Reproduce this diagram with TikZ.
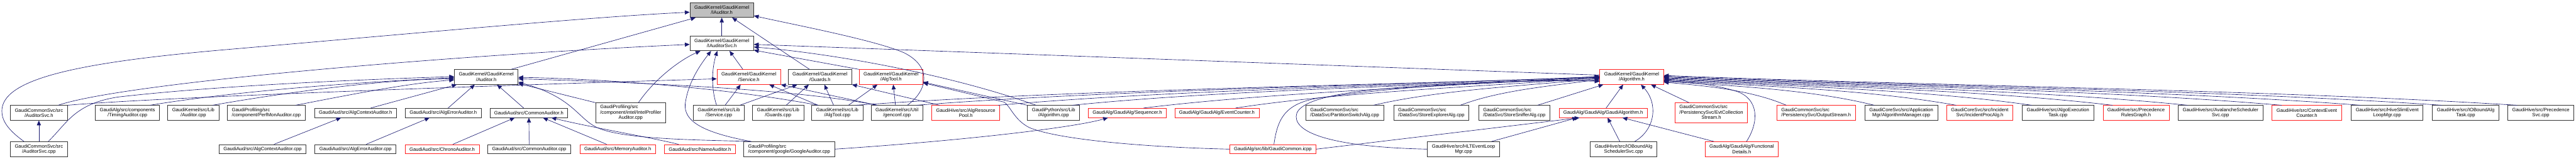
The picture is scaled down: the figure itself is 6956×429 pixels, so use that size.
\documentclass[tikz,border=0pt]{standalone}
\usepackage{fontspec}
\setmainfont{Liberation Sans}
\usetikzlibrary{arrows.meta, calc}
\definecolor{cEdge}{HTML}{191970}
\definecolor{cRed}{HTML}{FF2020}
\definecolor{cRoot}{HTML}{BFBFBF}
% three lines: two left aligned, the last one centred
\newcommand{\tlines}[3]{\begin{tabular}{@{}l@{}}#1\\#2\\\multicolumn{1}{@{}c@{}}{#3}\end{tabular}}

\begin{document}
\begin{tikzpicture}[
  x=1pt, y=-1pt,
  font=\fontsize{13}{14.5}\selectfont, >={Triangle[length=13pt,width=11pt]},
  file/.style={draw=black!80, fill=white, line width=1.2pt, align=center, inner xsep=12pt, inner ysep=2pt},
  trunc/.style={file, draw=cRed},
  root/.style={file, fill=cRoot},
  one/.style={minimum height=25pt},
  two/.style={minimum height=40pt},
  three/.style={minimum height=54pt},
  lft/.style={align=left},
  inc/.style={->, draw=cEdge, line width=1.1pt},
]
\useasboundingbox (0,0) rectangle (6956,429);

% rows 0 and 1
\node[root, two] (ia) at (1949,27) {GaudiKernel/GaudiKernel\\/IAuditor.h};
\node[file, two] (iasvc) at (1949,117) {GaudiKernel/GaudiKernel\\/IAuditorSvc.h};

% row 2
\node[file, two] (audh) at (1313,208) {GaudiKernel/GaudiKernel\\/Auditor.h};
\node[trunc, two] (svch) at (2022,208) {GaudiKernel/GaudiKernel\\/Service.h};
\node[file, two] (grdh) at (2214,208) {GaudiKernel/GaudiKernel\\/Guards.h};
\node[trunc, two] (tolh) at (2406,208) {GaudiKernel/GaudiKernel\\/AlgTool.h};
\node[trunc, two] (algh) at (4406,208) {GaudiKernel/GaudiKernel\\/Algorithm.h};

% row 3
\node[file, two] (adsvh) at (105,305) {GaudiCommonSvc/src\\/AuditorSvc.h};
\node[file, two] (timcpp) at (344,305) {GaudiAlg/src/components\\/TimingAuditor.cpp};
\node[file, two] (audcpp) at (522,305) {GaudiKernel/src/Lib\\/Auditor.cpp};
\node[file, two, lft] (perfcpp) at (719,305) {GaudiProfiling/src\\/component/PerfMonAuditor.cpp};
\node[file, one] (algctxh) at (960,305) {GaudiAud/src/AlgContextAuditor.h};
\node[file, one] (algerrh) at (1197,305) {GaudiAud/src/AlgErrorAuditor.h};
\node[file, one] (comh) at (1428,305) {GaudiAud/src/CommonAuditor.h};
\node[file, three] (intelcpp) at (1703,305) {\tlines{GaudiProfiling/src}{/component/intel/IntelProfiler}{Auditor.cpp}};
\node[file, two] (svccpp) at (1941,305) {GaudiKernel/src/Lib\\/Service.cpp};
\node[file, two] (grdcpp) at (2101,305) {GaudiKernel/src/Lib\\/Guards.cpp};
\node[file, two] (tolcpp) at (2261,305) {GaudiKernel/src/Lib\\/AlgTool.cpp};
\node[file, two] (gencpp) at (2422,305) {GaudiKernel/src/Util\\/genconf.cpp};
\node[trunc, two] (poolh) at (2608,305) {GaudiHive/src/AlgResource\\Pool.h};
\node[file, two] (pyalgcpp) at (2845,305) {GaudiPython/src/Lib\\/Algorithm.cpp};
\node[trunc, one] (seqh) at (3044,305) {GaudiAlg/GaudiAlg/Sequencer.h};
\node[trunc, one] (evcnth) at (3286,305) {GaudiAlg/GaudiAlg/EventCounter.h};
\node[file, two, lft] (partcpp) at (3631,305) {GaudiCommonSvc/src\\/DataSvc/PartitionSwitchAlg.cpp};
\node[file, two, lft] (explcpp) at (3865,305) {GaudiCommonSvc/src\\/DataSvc/StoreExplorerAlg.cpp};
\node[file, two, lft] (sniffcpp) at (4089,305) {GaudiCommonSvc/src\\/DataSvc/StoreSnifferAlg.cpp};
\node[trunc, one] (galgh) at (4329,305) {GaudiAlg/GaudiAlg/GaudiAlgorithm.h};
\node[trunc, three] (evtcolh) at (4621,305) {\tlines{GaudiCommonSvc/src}{/PersistencySvc/EvtCollection}{Stream.h}};
\node[trunc, two, lft] (outh) at (4904,305) {GaudiCommonSvc/src\\/PersistencySvc/OutputStream.h};
\node[file, two] (amgrcpp) at (5134,305) {GaudiCoreSvc/src/Application\\Mgr/AlgorithmManager.cpp};
\node[trunc, two] (incih) at (5346,305) {GaudiCoreSvc/src/Incident\\Svc/IncidentProcAlg.h};
\node[file, two] (exectask) at (5557,305) {GaudiHive/src/AlgoExecution\\Task.cpp};
\node[trunc, two] (precrh) at (5768,305) {GaudiHive/src/Precedence\\RulesGraph.h};
\node[file, two] (avalcpp) at (5996,305) {GaudiHive/src/AvalancheScheduler\\Svc.cpp};
\node[trunc, two] (ctxcnth) at (6229,305) {GaudiHive/src/ContextEvent\\Counter.h};
\node[file, two] (slimcpp) at (6446,305) {GaudiHive/src/HiveSlimEvent\\LoopMgr.cpp};
\node[file, two] (iotaskcpp) at (6658,305) {GaudiHive/src/IOBoundAlg\\Task.cpp};
\node[file, two] (precsvccpp) at (6861,305) {GaudiHive/src/Precedence\\Svc.cpp};

% row 4
\node[file, two] (adsvcpp) at (105,403) {GaudiCommonSvc/src\\/AuditorSvc.cpp};
\node[file, one] (algctxcpp) at (709,403) {GaudiAud/src/AlgContextAuditor.cpp};
\node[file, one] (algerrcpp) at (960,403) {GaudiAud/src/AlgErrorAuditor.cpp};
\node[trunc, one] (chronoh) at (1194,403) {GaudiAud/src/ChronoAuditor.h};
\node[file, one] (comcpp) at (1429,403) {GaudiAud/src/CommonAuditor.cpp};
\node[trunc, one] (memh) at (1668,403) {GaudiAud/src/MemoryAuditor.h};
\node[trunc, one] (nameh) at (1890,403) {GaudiAud/src/NameAuditor.h};
\node[file, two, lft] (googcpp) at (2131,403) {GaudiProfiling/src\\/component/google/GoogleAuditor.cpp};
\node[trunc, one] (icpp) at (3437,403) {GaudiAlg/src/lib/GaudiCommon.icpp};
\node[file, two] (hltcpp) at (3952,403) {GaudiHive/src/HLTEventLoop\\Mgr.cpp};
\node[file, two] (iosvccpp) at (4384,403) {GaudiHive/src/IOBoundAlg\\SchedulerSvc.cpp};
\node[trunc, two] (funch) at (4703,403) {GaudiAlg/GaudiAlg/Functional\\Details.h};

% into IAuditor.h
\draw[inc] (iasvc) -- (ia);
\draw[inc] ($(audh.north)+(67,0)$) -- ($(ia.south west)+(16,0)$);
\draw[inc] ($(grdh.north)+(-28,0)$) -- ($(ia.south)+(28,0)$);
\draw[inc] ($(adsvcpp.north)+(-40,0)$) .. controls (20,350) and (5,325) .. (5,300)
  .. controls (5,215) and (200,170) .. (600,135) .. controls (1100,92) and (1600,45) .. ($(ia.west)+(0,6)$);
\draw[inc] ($(gencpp.north)+(28,0)$) .. controls (2505,245) and (2518,180) .. (2440,142)
  .. controls (2360,108) and (2150,68) .. ($(ia.south east)+(0,-5)$);

% into IAuditorSvc.h
\draw[inc] ($(adsvh.north)+(52,0)$) .. controls (330,225) and (1200,150) .. ($(iasvc.west)+(0,3)$);
\draw[inc] ($(intelcpp.north)+(21,0)$) .. controls (1770,210) and (1840,160) .. ($(iasvc.south west)+(29,0)$);
\draw[inc] ($(googcpp.north west)+(21,0)$) .. controls (1880,355) and (1840,320) .. (1852,270)
  .. controls (1862,215) and (1895,170) .. ($(iasvc.south)+(-29,0)$);
\draw[inc] ($(svccpp.north)+(-6,0)$) .. controls (1920,240) and (1922,185) .. ($(iasvc.south)+(-12,0)$);
\draw[inc] ($(svch.north)+(-16,0)$) -- ($(iasvc.south)+(21,0)$);
\draw[inc] (tolh.north west) -- ($(iasvc.south east)+(0,-2)$);
\draw[inc] ($(algh.west)+(0,-5)$) -- ($(iasvc.east)+(0,3)$);
\draw[inc] ($(pyalgcpp.north west)+(24,0)$) .. controls (2560,200) and (2250,145) .. ($(iasvc.east)+(0,10)$);

% into Auditor.h
\draw[inc] ($(timcpp.north)+(61,0)$) .. controls (600,252) and (900,225) .. ($(audh.west)+(0,2)$);
\draw[inc] ($(audcpp.north)+(52,0)$) .. controls (700,262) and (1000,215) .. ($(audh.west)+(0,5)$);
\draw[inc] ($(perfcpp.north)+(79,0)$) .. controls (950,255) and (1100,225) .. ($(audh.west)+(0,8)$);
\draw[inc] ($(adsvcpp.north)+(25,0)$) .. controls (180,335) and (200,280) .. (320,262)
  .. controls (600,230) and (1000,214) .. ($(audh.west)+(0,-1)$);
\draw[inc] ($(algctxh.north)+(41,0)$) -- ($(audh.south west)+(7,0)$);
\draw[inc] ($(algerrh.north)+(13,0)$) -- ($(audh.south)+(-31,0)$);
\draw[inc] ($(comh.north)+(-14,0)$) -- ($(audh.south)+(29,0)$);
\draw[inc] (intelcpp.north west) -- ($(audh.south east)+(0,-3)$);
\draw[inc] ($(tolcpp.north west)+(18,0)$) .. controls (2000,245) and (1700,215) .. ($(audh.east)+(0,1)$);
\draw[inc] ($(gencpp.north west)+(17,0)$) .. controls (2150,240) and (1700,222) .. ($(audh.east)+(0,5)$);
\draw[inc] ($(googcpp.north west)+(21,0)$) .. controls (1900,378) and (1700,378) .. (1620,348)
  .. controls (1560,325) and (1555,265) .. ($(audh.east)+(0,14)$);

% auditor implementations
\draw[inc] (adsvcpp) -- (adsvh);
\draw[inc] ($(algctxcpp.north)+(31,0)$) -- ($(algctxh.south)+(-39,0)$);
\draw[inc] ($(algerrcpp.north)+(29,0)$) -- ($(algerrh.south)+(-37,0)$);
\draw[inc] ($(chronoh.north)+(29,0)$) -- ($(comh.south)+(-38,0)$);
\draw[inc] (comcpp) -- (comh);
\draw[inc] ($(memh.north)+(-30,0)$) -- ($(comh.south)+(38,0)$);
\draw[inc] ($(nameh.north)+(-58,0)$) .. controls (1760,372) and (1600,345) .. ($(comh.south east)+(-45,0)$);

% Service.h, Guards.h, AlgTool.h
\draw[inc] (adsvh.north east) .. controls (400,265) and (1200,235) .. ($(svch.west)+(0,5)$);
\draw[inc] ($(svccpp.north)+(17,0)$) -- ($(svch.south)+(-22,0)$);
\draw[inc] ($(tolcpp.north west)+(18,0)$) -- ($(svch.south)+(55,0)$);
\draw[inc] ($(gencpp.north west)+(17,0)$) -- (svch.south east);
\draw[inc] ($(svccpp.north east)+(-13,0)$) -- ($(grdh.south)+(-61,0)$);
\draw[inc] ($(grdcpp.north)+(22,0)$) -- ($(grdh.south)+(-30,0)$);
\draw[inc] ($(tolcpp.north)+(-10,0)$) -- ($(grdh.south)+(12,0)$);
\draw[inc] ($(poolh.north west)+(22,0)$) -- (grdh.south east);
\draw[inc] ($(tolcpp.north)+(30,0)$) -- ($(tolh.south west)+(50,0)$);
\draw[inc] ($(gencpp.north)+(-4,0)$) -- ($(tolh.south)+(6,0)$);
\draw[inc] (pyalgcpp.north west) -- ($(tolh.east)+(0,14)$);
\draw[inc] (icpp.west) .. controls (3100,398) and (2860,378) .. (2780,345)
  .. controls (2740,325) and (2730,290) .. (2712,276) -- ($(tolh.east)+(0,16)$);

% Sequencer.h, GaudiAlgorithm.h
\draw[inc] (googcpp.east) .. controls (2600,380) and (2900,345) .. ($(seqh.south west)+(54,0)$);
\draw[inc] (icpp.east) -- ($(galgh.south west)+(56,0)$);
\draw[inc] ($(hltcpp.north east)+(-23,0)$) -- ($(galgh.south west)+(50,0)$);
\draw[inc] ($(iosvccpp.north)+(-10,0)$) -- ($(galgh.south)+(12,0)$);
\draw[inc] ($(funch.north west)+(25,0)$) -- ($(galgh.south)+(52,0)$);

% into Algorithm.h
\draw[inc] ($(galgh.north)+(8,0)$) -- ($(algh.south)+(-23,0)$);
\draw[inc] ($(sniffcpp.north east)+(-34,0)$) -- ($(algh.south west)+(10,0)$);
\draw[inc] ($(evtcolh.north)+(-60,0)$) -- ($(algh.south)+(52,0)$);
\draw[inc] ($(iosvccpp.north)+(30,0)$) .. controls (4470,350) and (4478,280) .. ($(algh.south)+(25,0)$);
\draw[inc] ($(funch.north)+(13,0)$) .. controls (4750,330) and (4750,268) .. (4690,247)
  .. controls (4620,225) and (4540,220) .. ($(algh.east)+(0,10)$);
\draw[inc] ($(icpp.north)+(3,0)$) .. controls (3450,320) and (3470,280) .. (3560,265)
  .. controls (3800,230) and (4100,215) .. ($(algh.west)+(0,10)$);
\draw[inc] (hltcpp.west) .. controls (3620,398) and (3500,365) .. (3500,315)
  .. controls (3500,265) and (3650,245) .. (3800,235) .. controls (4000,222) and (4200,215) .. ($(algh.west)+(0,12)$);
\foreach \s/\dx/\dy in {seqh/62/-2, evcnth/64/2, partcpp/28/4, explcpp/24/6, tolcpp/20/0, gencpp/18/-1, poolh/5/1, pyalgcpp/21/3}
  \draw[inc] ($(\s.north east)+(-\dx,0)$) coordinate (s0)
    .. controls ($(s0)!0.3!(algh.west)+(0,-20)$) and ($(s0)!0.7!(algh.west)$) .. ($(algh.west)+(0,\dy)$);
\foreach \s/\dy in {outh/14, amgrcpp/12, incih/10, exectask/8, precrh/6, avalcpp/4, ctxcnth/2, slimcpp/0, iotaskcpp/-2, precsvccpp/-4}
  \draw[inc] ($(\s.north west)+(26,0)$) coordinate (s0)
    .. controls ($(s0)!0.3!(algh.east)+(0,-20)$) and ($(s0)!0.7!(algh.east)$) .. ($(algh.east)+(0,\dy)$);

\end{tikzpicture}
\end{document}
